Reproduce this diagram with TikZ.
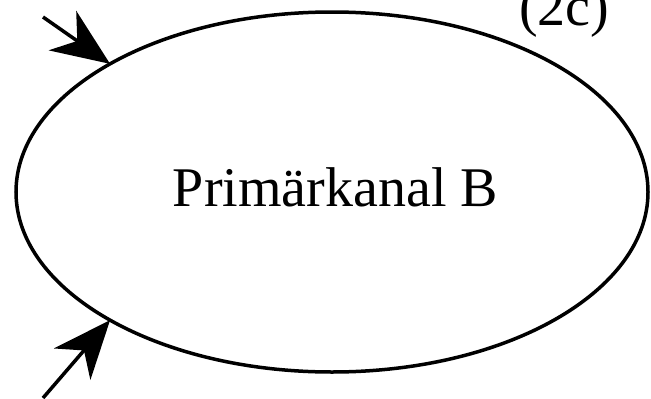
\documentclass[tikz,border=0pt]{standalone}
\usepackage{fontspec}
\setmainfont{Liberation Serif}
\usetikzlibrary{arrows.meta,shapes.geometric}
\begin{document}
\begin{tikzpicture}[x=1pt,y=-1pt,
  lbl/.style={font=\fontsize{56}{64}\selectfont, inner sep=0pt},
  arr/.style={line width=3.5pt, -{Stealth[length=58pt,width=48pt,inset=18pt]}}]
\useasboundingbox (0,0) rectangle (651,399);
\node[ellipse, draw, line width=3.5pt, minimum width=632pt, minimum height=360pt, inner sep=0pt, outer sep=0pt] (e) at (332,192) {};
\node[lbl, anchor=base] (t) at (335.5,206) {Primärkanal B};
\node[lbl, anchor=base west] (c) at (519,25) {(2c)};
\coordinate (s1) at (43,17);
\coordinate (s2) at (43,398);
\draw[arr] (s1) -- (e.150.3);
\draw[arr] (s2) -- (e.210.7);
\end{tikzpicture}
\end{document}
